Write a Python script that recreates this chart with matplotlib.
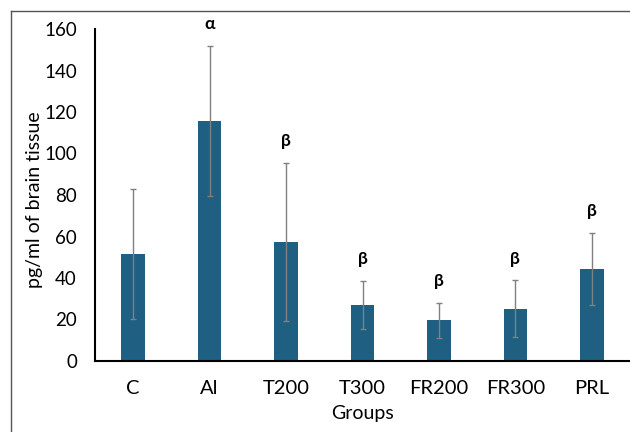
import matplotlib
matplotlib.use("Agg")
import matplotlib.pyplot as plt
from matplotlib.lines import Line2D

groups = ["C", "Al", "T200", "T300", "FR200", "FR300", "PRL"]
means = [51.6, 115.8, 57.3, 27.0, 19.6, 25.2, 44.5]
errors = [31.5, 36.2, 38.2, 11.6, 8.3, 13.6, 17.4]
letters = ["", "α", "β", "β", "β", "β", "β"]
yticks = [0, 20, 40, 60, 80, 100, 120, 140, 160]

plt.rcParams['font.family'] = ['Lato', 'DejaVu Sans']

W, H = 630, 432
fig = plt.figure(figsize=(6.3, 4.32), dpi=100)
ax = fig.add_axes([95/W, 1-361/H, 1-95/W, (361-29)/H])

x = list(range(len(groups)))
ax.bar(x, means, width=0.31, color="#1f5f82", zorder=2)
ax.errorbar(x, means, yerr=errors, fmt="none", ecolor="#808080",
            elinewidth=1.0, capsize=2.5, capthick=1.0, zorder=3)
for xi, m, e, lab in zip(x, means, errors, letters):
    if lab:
        ax.text(xi, m + e + 10.5, lab, ha="center", va="center",
                fontsize=12.5, fontweight="bold", clip_on=False)

ax.set_xlim(-0.5, len(groups) - 0.5)
ax.set_ylim(0, 160)
ax.set_yticks(yticks)
ax.set_xticks(x)
ax.set_xticklabels(groups)
ax.tick_params(axis="x", length=0, labelsize=14.5, pad=14)
ax.tick_params(axis="y", length=0, labelsize=13.5, pad=13)
for s in ["top", "right"]:
    ax.spines[s].set_visible(False)
for s in ["left", "bottom"]:
    ax.spines[s].set_linewidth(1.5)
    ax.spines[s].set_color("black")

fig.text(35/W, 1-200/H, "pg/ml of brain tissue", fontsize=14, rotation=90,
         ha="center", va="center")
fig.text(362/W, 1-413/H, "Groups", fontsize=14, ha="center", va="center")

# outer frame lines (left and top)
fig.add_artist(Line2D([11/W, 11/W], [0, 1-11/H], color="#555555", lw=1.0, transform=fig.transFigure))
fig.add_artist(Line2D([11/W, 1], [1-11/H, 1-11/H], color="#555555", lw=1.0, transform=fig.transFigure))

fig.savefig("out.png", dpi=100)
